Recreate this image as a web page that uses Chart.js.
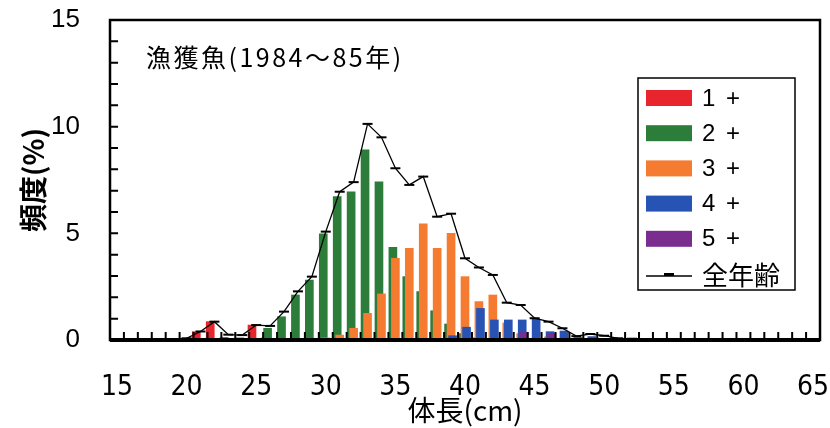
<!DOCTYPE html>
<html>
<head>
<meta charset="utf-8">
<script src="https://cdn.jsdelivr.net/npm/chart.js@4/dist/chart.umd.min.js"></script>
<style>
  html, body { margin: 0; padding: 0; background: #fff; }
  #chart { display: block; }
</style>
</head>
<body>
<canvas id="chart" width="830" height="428"></canvas>
<script>
// body length (cm), one entry per class
const lengths = [18, 19, 20, 21, 22, 23, 24, 25, 26, 27, 28, 29, 30, 31, 32, 33, 34, 35,
                 36, 37, 38, 39, 40, 41, 42, 43, 44, 45, 46, 47, 48, 49, 50, 51, 52];

// frequency (%) by age group
const age1 = [0, 0, 0.05, 0.39, 0.86, 0.12, 0.08, 0.70, 0.12, 0, 0, 0, 0, 0, 0, 0, 0, 0,
              0, 0, 0, 0, 0, 0, 0, 0, 0, 0, 0, 0, 0, 0, 0, 0, 0];
const age2 = [0, 0, 0, 0, 0, 0, 0.1, 0, 0.55, 1.09, 2.11, 2.81, 4.98, 6.72, 6.95, 8.91, 7.42, 4.34,
              2.97, 2.27, 1.37, 0.75, 0.3, 0.1, 0, 0, 0, 0, 0, 0, 0, 0, 0, 0, 0];
const age3 = [0, 0, 0, 0, 0, 0, 0, 0, 0, 0, 0.04, 0.08, 0.1, 0.23, 0.55, 1.25, 2.16, 3.83,
              4.30, 5.45, 4.30, 5.0, 2.97, 1.80, 2.11, 0.8, 0.3, 0.05, 0.15, 0.05, 0, 0, 0, 0, 0];
const age4 = [0, 0, 0, 0, 0, 0, 0, 0, 0, 0, 0, 0, 0, 0, 0, 0, 0, 0,
              0.05, 0.05, 0.05, 0.2, 0.6, 1.48, 0.94, 0.94, 0.94, 0.97, 0.39, 0.42, 0.12, 0.16, 0.05, 0, 0];
const age5 = [0, 0, 0, 0, 0, 0, 0, 0, 0, 0, 0, 0, 0, 0, 0, 0, 0, 0,
              0, 0, 0, 0, 0, 0, 0, 0, 0.35, 0, 0.3, 0.05, 0, 0, 0, 0, 0];
const total = [0, 0.03, 0.08, 0.4, 0.86, 0.25, 0.23, 0.70, 0.66, 1.33, 2.28, 2.97, 5.08, 6.95, 7.40, 10.13, 9.50, 8.05,
               7.27, 7.66, 5.78, 5.92, 3.83, 3.40, 3.05, 1.75, 1.64, 1.02, 0.86, 0.55, 0.18, 0.28, 0.2, 0.08, 0.06];

const seriesLabels = ['1 +', '2 +', '3 +', '4 +', '5 +'];
const totalLabel = '全年齢';
const xTickValues = [15, 20, 25, 30, 35, 40, 45, 50, 55, 60, 65];
const yTickValues = [0, 5, 10, 15];

const colors = ['#e8242c', '#2d7d3a', '#f47b2f', '#2753b5', '#7b2d8f'];
const shifts = [-0.3, -0.18, 0, 0.11, 0.25];   // bar overlap like the original
const ageData = [age1, age2, age3, age4, age5];

const jp = "'Noto Sans CJK JP', sans-serif";
const num = "'Liberation Sans', Arial, sans-serif";
const narrow = "'Liberation Sans Narrow', 'DejaVu Sans Condensed', Arial, sans-serif";

const barSets = ageData.map((vals, k) => ({
    type: 'bar',
    label: seriesLabels[k],
    data: lengths.map((len, i) => ({ x: len + shifts[k], y: vals[i] })),
    backgroundColor: colors[k],
    borderWidth: 0,
    barThickness: 8,
    grouped: false,
    order: 5 - k
}));

const lineSet = {
    type: 'line',
    label: totalLabel,
    data: lengths.map((len, i) => ({ x: len, y: total[i] })),
    borderColor: '#000',
    borderWidth: 1.3,
    tension: 0,
    pointStyle: 'line',
    pointRadius: 5,
    pointBorderWidth: 2,
    pointBorderColor: '#000',
    order: 0
};

const frame = {
    id: 'frame',
    afterDatasetsDraw(chart) {
        const { ctx, chartArea: a, scales: { x, y } } = chart;
        ctx.save();
        ctx.strokeStyle = '#000';
        ctx.lineWidth = 2;
        ctx.beginPath();
        for (let v = y.min + 1; v < y.max; v++) {
            const py = y.getPixelForValue(v);
            ctx.moveTo(a.left, py);
            ctx.lineTo(a.left + 8, py);
        }
        for (let v = x.min + 1; v < x.max; v++) {
            const px = x.getPixelForValue(v);
            ctx.moveTo(px, a.bottom);
            ctx.lineTo(px, a.bottom - 8);
        }
        ctx.stroke();
        ctx.lineWidth = 2.5;
        ctx.strokeRect(a.left, a.top, a.right - a.left, a.bottom - a.top);
        ctx.lineWidth = 4;
        ctx.beginPath();
        ctx.moveTo(a.left, a.bottom);
        ctx.lineTo(a.right, a.bottom);
        ctx.stroke();
        ctx.restore();
    }
};

const boxLegend = {
    id: 'boxLegend',
    afterDraw(chart) {
        const ctx = chart.ctx;
        const bx = 638, by = 78, bw = 157, bh = 212, step = 35.2;
        ctx.save();
        ctx.fillStyle = '#fff';
        ctx.fillRect(bx, by, bw, bh);
        ctx.strokeStyle = '#000';
        ctx.lineWidth = 1.5;
        ctx.strokeRect(bx, by, bw, bh);
        ctx.textBaseline = 'middle';
        chart.data.datasets.forEach((ds, i) => {
            const cy = by + 20 + i * step;
            ctx.fillStyle = '#000';
            ctx.letterSpacing = '0px';
            if (ds.type === 'line') {
                ctx.lineWidth = 1.5;
                ctx.beginPath();
                ctx.moveTo(bx + 8, cy + 2);
                ctx.lineTo(bx + 54, cy + 2);
                ctx.stroke();
                ctx.fillRect(bx + 26, cy - 1, 10, 3);
                ctx.font = '26px ' + jp;
            } else {
                ctx.fillStyle = ds.backgroundColor;
                ctx.fillRect(bx + 8, cy - 8, 46, 16);
                ctx.fillStyle = '#000';
                ctx.font = '24px ' + num;
                ctx.letterSpacing = '2px';
            }
            ctx.fillText(ds.label, bx + 64, cy + 1);
        });
        ctx.restore();
    }
};

const caption = {
    id: 'caption',
    afterDraw(chart) {
        const ctx = chart.ctx;
        ctx.save();
        ctx.fillStyle = '#000';
        ctx.font = '25px ' + jp;
        ctx.letterSpacing = '2.5px';
        ctx.textBaseline = 'middle';
        ctx.fillText('漁獲魚(1984～85年)', 146, 57);
        ctx.restore();
    }
};

new Chart(document.getElementById('chart'), {
    data: { datasets: [...barSets, lineSet] },
    options: {
        responsive: false,
        animation: false,
        devicePixelRatio: 1,
        layout: { padding: { top: 20, right: 10, left: 0, bottom: 0 } },
        plugins: { legend: { display: false }, tooltip: { enabled: false } },
        scales: {
            x: {
                type: 'linear',
                min: 14.5,
                max: 65.5,
                offset: false,
                afterBuildTicks: s => { s.ticks = xTickValues.map(v => ({ value: v })); },
                afterFit: s => { s.height = 88; s.paddingLeft = 0; s.paddingRight = 0; },
                grid: { display: false },
                border: { display: false },
                ticks: { color: '#000', padding: 23, maxRotation: 0, autoSkip: false,
                         font: { family: narrow, size: 28 } },
                title: { display: true, text: '体長(cm)', color: '#000', padding: { bottom: 1 },
                         font: { family: jp, size: 28 } }
            },
            y: {
                min: 0,
                max: 15,
                afterBuildTicks: s => { s.ticks = yTickValues.map(v => ({ value: v })); },
                afterFit: s => { s.width = 110; s.paddingTop = 0; s.paddingBottom = 0; },
                grid: { display: false },
                border: { display: false },
                ticks: { color: '#000', padding: 22, font: { family: num, size: 26 } },
                title: { display: true, text: '頻度(%)', color: '#000', padding: { top: 17 },
                         font: { family: jp, size: 28, weight: 'bold' } }
            }
        }
    },
    plugins: [frame, boxLegend, caption]
});
</script>
</body>
</html>
